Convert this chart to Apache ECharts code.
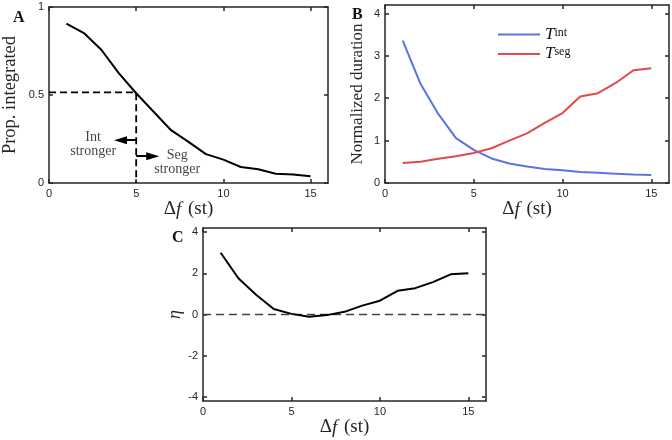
<!DOCTYPE html>
<html><head><meta charset="utf-8">
<script src="https://cdn.jsdelivr.net/npm/echarts@6/dist/echarts.min.js"></script>
<style>html,body{margin:0;padding:0;background:#fff}#c{width:672px;height:440px}</style>
</head><body><div id="c"></div>
<script>
// ---- data ----
const df = [1,2,3,4,5,6,7,8,9,10,11,12,13,14,15];
const propIntegrated = [0.905,0.852,0.757,0.624,0.51,0.405,0.30,0.234,0.164,0.133,0.091,0.078,0.053,0.048,0.038];
const tInt = [3.36,2.34,1.63,1.06,0.78,0.58,0.46,0.39,0.33,0.30,0.26,0.24,0.22,0.20,0.19];
const tSeg = [0.47,0.50,0.57,0.63,0.71,0.82,1.00,1.17,1.42,1.65,2.04,2.12,2.36,2.66,2.71];
const eta = [3.0,1.76,0.96,0.27,0.03,-0.11,-0.03,0.13,0.43,0.67,1.15,1.28,1.57,1.95,2.0];
const halfPoint = [5, 0.515];
const intArrow = [[5,0.243],[4.1,0.243]];
const segArrow = [[5,0.152],[5.95,0.152]];
const annotText = ['Int\nstronger','Seg\nstronger'];
const annotPos = [[2.53,0.222],[7.35,0.12]];
const xTicks = [0,5,10,15];
const aYTicks = [0,0.5,1];
const bYTicks = [0,1,2,3,4];
const cYTicks = [-4,-2,0,2,4];
const panelLetters = ['A','B','C'];
const legendNames = ['int','seg'];

const AX = '#262626';
const SERIF = 'Liberation Serif';
const SANS = 'Liberation Sans';
const BLUE = '#5b73e3', RED = '#e3484c';

const chart = echarts.init(document.getElementById('c'), null, {renderer:'canvas'});
const dfName = '{d|Δ}{f|f}  {d|(st)}';
const dfRich = {d:{fontFamily:SERIF,fontSize:19,color:AX}, f:{fontFamily:SERIF,fontStyle:'italic',fontSize:19,color:AX}};

function xAx(grid, ticks, primary){
  return {
    type:'value', gridIndex:grid, min:0, max:16, position: primary?'bottom':'top',
    axisLine:{show:true,onZero:false,lineStyle:{color:AX,width:1.5}},
    axisTick:{show:true,inside:true,length:4,customValues:ticks,lineStyle:{color:AX,width:1.5}},
    axisLabel:{show:primary,customValues:ticks,color:AX,fontFamily:SANS,fontSize:11,margin:5},
    splitLine:{show:false},
    name: primary?dfName:'', nameLocation:'middle', nameGap:17,
    nameTextStyle:{rich:dfRich}
  };
}
function yAx(grid, min, max, ticks, primary, name, gap, nameStyle){
  return {
    type:'value', gridIndex:grid, min:min, max:max, position: primary?'left':'right',
    axisLine:{show:true,onZero:false,lineStyle:{color:AX,width:1.5}},
    axisTick:{show:true,inside:true,length:4,customValues:ticks,lineStyle:{color:AX,width:1.5}},
    axisLabel:{show:primary,customValues:ticks,color:AX,fontFamily:SANS,fontSize:11,margin:5},
    splitLine:{show:false},
    name: primary?name:'', nameLocation:'middle', nameGap:gap, nameRotate:90,
    nameTextStyle: nameStyle || {fontFamily:SERIF,fontSize:18.5,color:AX}
  };
}
function pairs(xs, ys){ return xs.map((x,i)=>[x,ys[i]]); }

const option = {
  animation:false,
  backgroundColor:'#fff',
  title: [
    {text:panelLetters[0], left:8, top:5, textStyle:{fontFamily:SERIF,fontWeight:'bold',fontSize:16,color:'#111'}},
    {text:panelLetters[1], left:347, top:2, textStyle:{fontFamily:SERIF,fontWeight:'bold',fontSize:16,color:'#111'}},
    {text:panelLetters[2], left:167, top:225, textStyle:{fontFamily:SERIF,fontWeight:'bold',fontSize:16,color:'#111'}}
  ],
  grid: [
    {left:45, top:7, right:344, bottom:257},
    {left:385, top:5, right:3, bottom:257},
    {left:203, top:228, right:186, bottom:39}
  ],
  xAxis: [xAx(0,xTicks,true), xAx(0,xTicks,false), xAx(1,xTicks,true), xAx(1,xTicks,false), xAx(2,xTicks,true), xAx(2,xTicks,false)],
  yAxis: [
    yAx(0,0,1,aYTicks,true,'Prop. integrated',29),
    yAx(0,0,1,aYTicks,false),
    yAx(1,0,4.2,bYTicks,true,'Normalized duration',19,{fontFamily:SERIF,fontSize:17,color:AX}),
    yAx(1,0,4.2,bYTicks,false),
    yAx(2,-4.2,4.2,cYTicks,true,'η',16,{fontFamily:SERIF,fontStyle:'italic',fontSize:18,color:AX}),
    yAx(2,-4.2,4.2,cYTicks,false)
  ],
  legend: {
    data:['Tint','Tseg'], orient:'vertical', left:493, top:21, itemWidth:42, itemHeight:2, itemGap:0,
    icon:'rect',
    formatter: n => n==='Tint' ? '{t|T}{s|'+legendNames[0]+'}' : '{t|T}{s|'+legendNames[1]+'}',
    textStyle:{rich:{
      t:{fontFamily:SERIF,fontStyle:'italic',fontSize:17,color:'#111',lineHeight:16},
      s:{fontFamily:SERIF,fontSize:12,color:'#111',verticalAlign:'top',lineHeight:16,padding:[0,0,7,0]}
    }}
  },
  series: [
    {type:'line', xAxisIndex:0, yAxisIndex:0, data:pairs(df,propIntegrated), symbol:'none', lineStyle:{color:'#000',width:2}, z:5},
    {type:'line', xAxisIndex:0, yAxisIndex:0, data:[[0,halfPoint[1]],halfPoint,[halfPoint[0],0]], symbol:'none',
      lineStyle:{color:'#000',width:1.8,type:[7,4]}},
    {type:'line', xAxisIndex:0, yAxisIndex:0, data:[], symbol:'none',
      markLine:{silent:true, symbol:['none','triangle'], symbolSize:[8,13],
        lineStyle:{color:'#000',width:2,type:'solid'}, label:{show:false},
        data:[[{coord:intArrow[0]},{coord:intArrow[1]}],[{coord:segArrow[0]},{coord:segArrow[1]}]]}},
    {type:'scatter', xAxisIndex:0, yAxisIndex:0, symbolSize:0, silent:true,
      data: annotPos.map((p,i)=>({value:p, name:annotText[i]})),
      label:{show:true, position:'inside', formatter:p=>p.name, fontFamily:SERIF, fontSize:14, lineHeight:14, color:'#111'}},
    {name:'Tint', type:'line', xAxisIndex:2, yAxisIndex:2, data:pairs(df,tInt), symbol:'none', lineStyle:{color:BLUE,width:2}, itemStyle:{color:BLUE}},
    {name:'Tseg', type:'line', xAxisIndex:2, yAxisIndex:2, data:pairs(df,tSeg), symbol:'none', lineStyle:{color:RED,width:2}, itemStyle:{color:RED}},
    {type:'line', xAxisIndex:4, yAxisIndex:4, data:pairs(df,eta), symbol:'none', lineStyle:{color:'#000',width:2}, z:5,
      markLine:{silent:true, symbol:['none','none'], label:{show:false},
        lineStyle:{color:'#444',width:1.3,type:[8,5]}, data:[{yAxis:0}]}}
  ]
};
chart.setOption(option);
</script></body></html>
